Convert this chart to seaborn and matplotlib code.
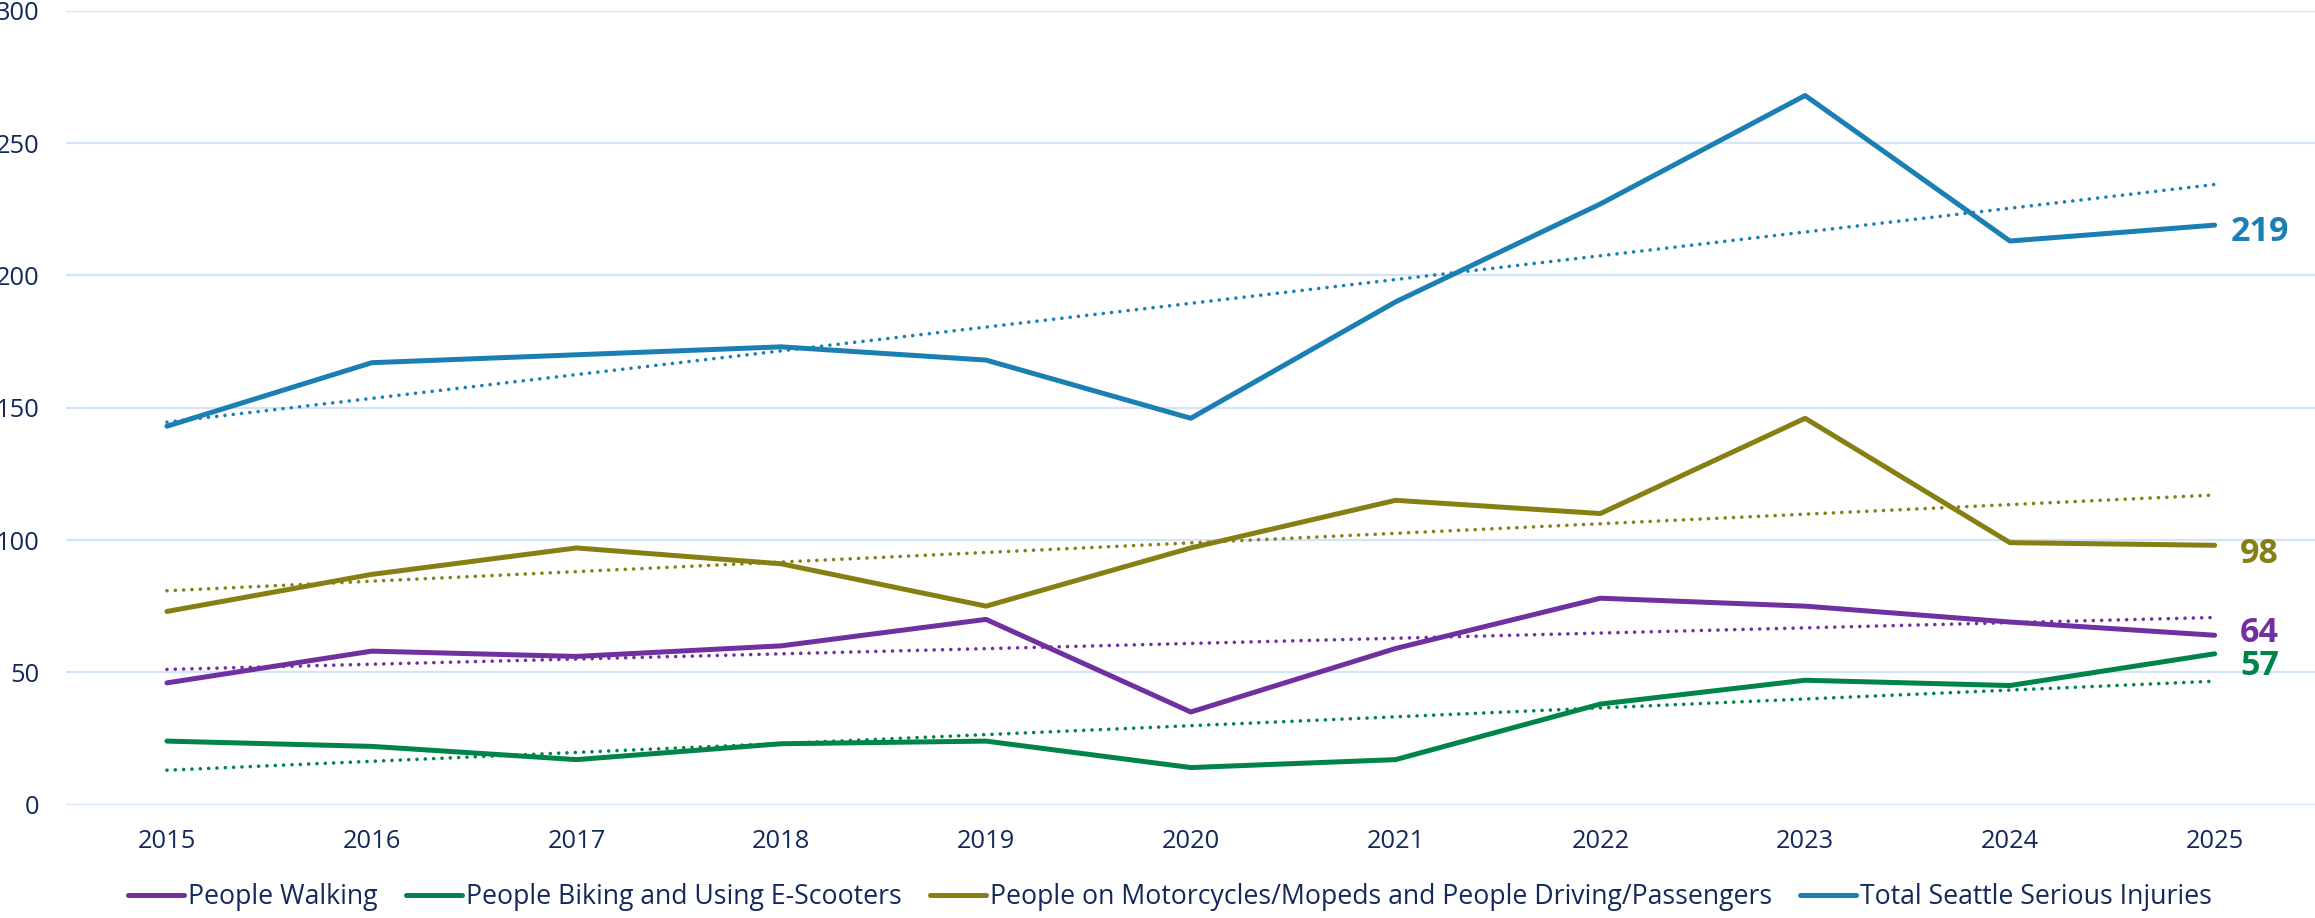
import matplotlib
matplotlib.use("Agg")
import matplotlib.pyplot as plt
import seaborn as sns
import pandas as pd
import numpy as np

years = [2015, 2016, 2017, 2018, 2019, 2020, 2021, 2022, 2023, 2024, 2025]
walking = [46, 58, 56, 60, 70, 35, 59, 78, 75, 69, 64]
biking = [24, 22, 17, 23, 24, 14, 17, 38, 47, 45, 57]
motor_driving = [73, 87, 97, 91, 75, 97, 115, 110, 146, 99, 98]
total = [143, 167, 170, 173, 168, 146, 190, 227, 268, 213, 219]

series_names = [
    "People Walking",
    "People Biking and Using E-Scooters",
    "People on Motorcycles/Mopeds and People Driving/Passengers",
    "Total Seattle Serious Injuries",
]
colors = ["#7030A0", "#00844A", "#857F14", "#1B7FB4"]
label_offsets = [-4.5, -15.1, -12.6, -11.2]  # nudge end labels (points)

TEXT = "#14295A"
GRID = "#D3E3F8"

df = pd.DataFrame({"year": years, series_names[0]: walking, series_names[1]: biking,
                   series_names[2]: motor_driving, series_names[3]: total})
long = df.melt(id_vars="year", var_name="series", value_name="injuries")

sns.set_theme(style="white")
plt.rcParams["font.family"] = ["Open Sans", "DejaVu Sans"]

fig = plt.figure(figsize=(23.15, 9.18), dpi=100)
ax = fig.add_axes([66 / 2315, 1 - 804.6 / 918, 1 - 66 / 2315, 793.8 / 918])

# linear trendlines behind the series
for name, c in zip(series_names, colors):
    slope, icpt = np.polyfit(years, df[name], 1)
    trend = pd.DataFrame({"year": years, "fit": slope * np.array(years) + icpt})
    ax.plot(trend["year"], trend["fit"], color=c, lw=2.6,
            ls=(0, (0.01, 2.3)), dash_capstyle="round", zorder=2)

sns.lineplot(data=long, x="year", y="injuries", hue="series", hue_order=series_names,
             palette=colors, lw=3.6, ax=ax, zorder=3, legend=True,
             solid_capstyle="round", solid_joinstyle="round")

for name, c, dy in zip(series_names, colors, label_offsets):
    v = df[name].iloc[-1]
    ax.annotate(f"{v}", xy=(years[-1], v), xytext=(32.4, dy), textcoords="offset points",
                ha="center", va="baseline", fontsize=24.5, fontweight="bold", color=c)

ax.set_xlim(2014.507, 2025.49)
ax.set_ylim(0, 300)
ax.set_yticks(range(0, 301, 50))
ax.set_xticks(years)
ax.set_xticklabels([str(y) for y in years])
ax.tick_params(axis="both", length=0, labelsize=18.4, labelcolor=TEXT)
ax.tick_params(axis="y", pad=19)
ax.tick_params(axis="x", pad=17.5)
ax.yaxis.grid(True, color=GRID, lw=1.6)
ax.xaxis.grid(False)
ax.set_axisbelow(True)
for s in ax.spines.values():
    s.set_visible(False)
ax.set_xlabel("")
ax.set_ylabel("")

handles, labels = ax.get_legend_handles_labels()
ax.legend_.remove()
leg = fig.legend(handles, labels, loc="center", bbox_to_anchor=(1170 / 2315, 1 - 897 / 918),
                 ncol=4, frameon=False, fontsize=19.2, handlelength=2.1,
                 handletextpad=0.15, columnspacing=1.05, borderaxespad=0, borderpad=0)
for t in leg.get_texts():
    t.set_color(TEXT)
for h in leg.get_lines():
    h.set_linewidth(3.6)
    h.set_solid_capstyle("round")

fig.savefig("out.png", dpi=100)
